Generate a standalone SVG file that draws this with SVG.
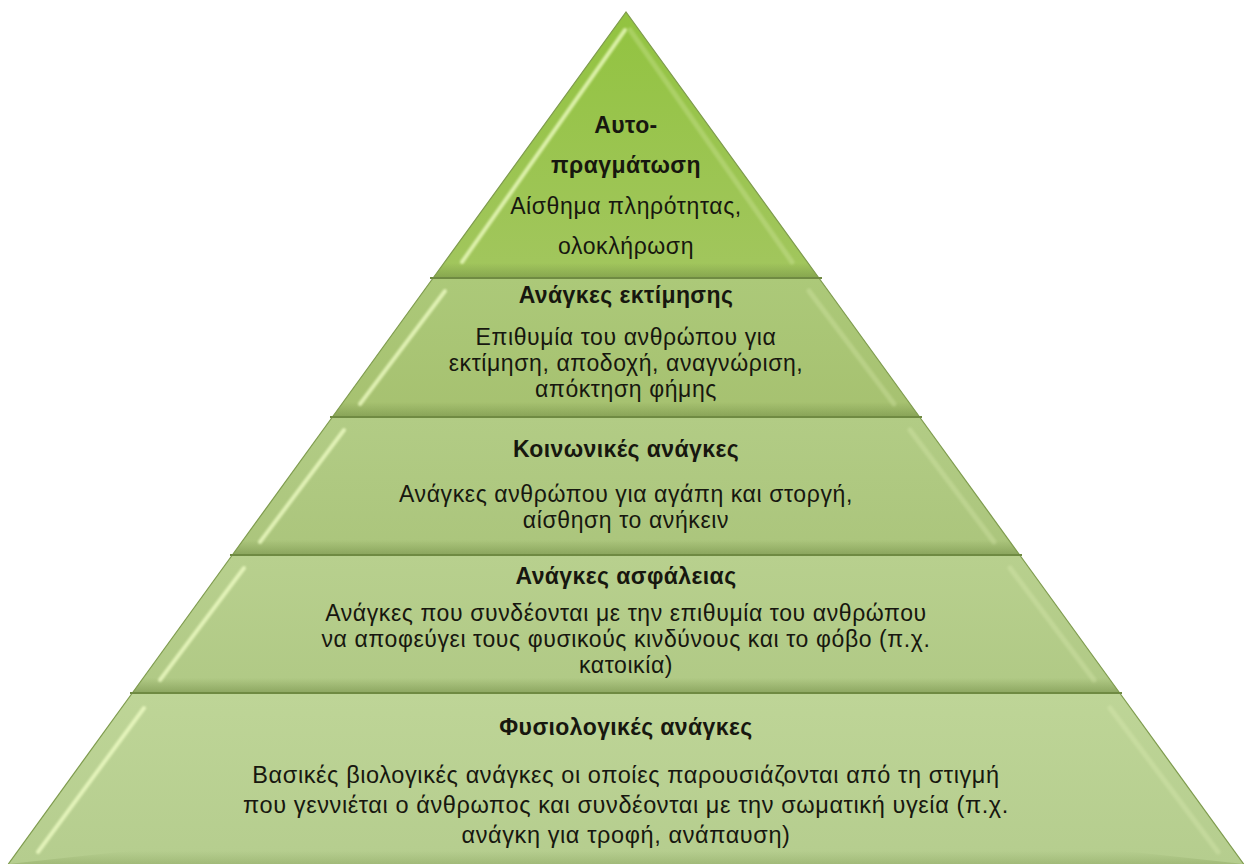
<svg xmlns="http://www.w3.org/2000/svg" width="1251" height="864" viewBox="0 0 1251 864">
<defs>
<style>
.t{font-family:"Liberation Sans",Arial,sans-serif;font-size:23px;letter-spacing:0.6px;fill:#17170f;text-anchor:middle}
.b{font-weight:bold;font-size:23px;letter-spacing:0.4px}
.big{font-size:23.5px}
.edge{fill:none;stroke:#7d9a4c;stroke-width:1.2}
.hl{fill:none;stroke:#f2ffc8;stroke-width:4;stroke-linecap:round;opacity:.75;filter:url(#blur)}
.hr{fill:none;stroke:#eaf7c0;stroke-width:5;stroke-linecap:round;opacity:.25;filter:url(#blur)}
.sh{fill:url(#shadow)}
.line{stroke:#6f8a42;stroke-width:2}
</style>
<filter id="blur" x="-20%" y="-20%" width="140%" height="140%"><feGaussianBlur stdDeviation="1.2"/></filter>
<linearGradient id="g1" x1="0" y1="0" x2="0" y2="1"><stop offset="0" stop-color="#92c340"/><stop offset="1" stop-color="#a2c65e"/></linearGradient>
<linearGradient id="g2" x1="0" y1="0" x2="0" y2="1"><stop offset="0" stop-color="#acc979"/><stop offset="1" stop-color="#a6c170"/></linearGradient>
<linearGradient id="g3" x1="0" y1="0" x2="0" y2="1"><stop offset="0" stop-color="#b2cc85"/><stop offset="1" stop-color="#abc57c"/></linearGradient>
<linearGradient id="g4" x1="0" y1="0" x2="0" y2="1"><stop offset="0" stop-color="#b8d08e"/><stop offset="1" stop-color="#b0c985"/></linearGradient>
<linearGradient id="g5" x1="0" y1="0" x2="0" y2="1"><stop offset="0" stop-color="#bed597"/><stop offset="1" stop-color="#b5cd8e"/></linearGradient>
<linearGradient id="shadow" x1="0" y1="0" x2="0" y2="1"><stop offset="0" stop-color="#6f8a42" stop-opacity="0"/><stop offset="1" stop-color="#6f8a42" stop-opacity=".55"/></linearGradient>
</defs>
<rect width="1251" height="864" fill="#ffffff"/>

<g id="tier5">
<polygon points="132.3,693 1119.7,693 1243.7,864 8.3,864" fill="url(#g5)"/>
<polygon points="128,851 1124,851 1243.7,864 8.3,864" class="sh" opacity=".5"/>
<line x1="144" y1="708" x2="38" y2="852" class="hl"/>
<line x1="1110" y1="708" x2="1218" y2="852" class="hr"/>
<polyline points="132.3,693 8.3,864" class="edge"/>
<polyline points="1119.7,693 1243.7,864" class="edge"/>
<text class="t b" x="626" y="735">Φυσιολογικές ανάγκες</text>
<text class="t big" x="626" y="783">Βασικές βιολογικές ανάγκες οι οποίες παρουσιάζονται από τη στιγμή</text>
<text class="t big" x="626" y="813">που γεννιέται ο άνθρωπος και συνδέονται με την σωματική υγεία (π.χ.</text>
<text class="t big" x="626" y="843">ανάγκη για τροφή, ανάπαυση)</text>
</g>

<g id="tier4">
<polygon points="232.3,555 1019.7,555 1119.7,693 132.3,693" fill="url(#g4)"/>
<polygon points="143,678 1109,678 1119.7,693 132.3,693" class="sh"/>
<line x1="244" y1="568" x2="160" y2="680" class="hl"/>
<line x1="1010" y1="568" x2="1094" y2="680" class="hr"/>
<polyline points="232.3,555 132.3,693" class="edge"/>
<polyline points="1019.7,555 1119.7,693" class="edge"/>
<line x1="130" y1="693" x2="1122" y2="693" class="line"/>
<text class="t b" x="626" y="584">Ανάγκες ασφάλειας</text>
<text class="t" x="626" y="621">Ανάγκες που συνδέονται με την επιθυμία του ανθρώπου</text>
<text class="t" x="626" y="647">να αποφεύγει τους φυσικούς κινδύνους και το φόβο (π.χ.</text>
<text class="t" x="626" y="673">κατοικία)</text>
</g>

<g id="tier3">
<polygon points="332.4,417 919.6,417 1019.7,555 232.3,555" fill="url(#g3)"/>
<polygon points="243,540 1009,540 1019.7,555 232.3,555" class="sh"/>
<line x1="344" y1="430" x2="260" y2="542" class="hl"/>
<line x1="910" y1="430" x2="994" y2="542" class="hr"/>
<polyline points="332.4,417 232.3,555" class="edge"/>
<polyline points="919.6,417 1019.7,555" class="edge"/>
<line x1="230" y1="555" x2="1022" y2="555" class="line"/>
<text class="t b" x="626" y="457">Κοινωνικές ανάγκες</text>
<text class="t" x="626" y="502">Ανάγκες ανθρώπου για αγάπη και στοργή,</text>
<text class="t" x="626" y="528">αίσθηση το ανήκειν</text>
</g>

<g id="tier2">
<polygon points="433.1,278 818.9,278 919.6,417 332.4,417" fill="url(#g2)"/>
<polygon points="343,402 909,402 919.6,417 332.4,417" class="sh"/>
<line x1="445" y1="291" x2="360" y2="404" class="hl"/>
<line x1="809" y1="291" x2="894" y2="404" class="hr"/>
<polyline points="433.1,278 332.4,417" class="edge"/>
<polyline points="818.9,278 919.6,417" class="edge"/>
<line x1="330" y1="417" x2="922" y2="417" class="line"/>
<text class="t b" x="626" y="303">Ανάγκες εκτίμησης</text>
<text class="t" x="626" y="345">Επιθυμία του ανθρώπου για</text>
<text class="t" x="626" y="371">εκτίμηση, αποδοχή, αναγνώριση,</text>
<text class="t" x="626" y="397">απόκτηση φήμης</text>
</g>

<g id="tier1">
<polygon points="626,12 818.9,278 433.1,278" fill="url(#g1)"/>
<polygon points="444,263 808,263 818.9,278 433.1,278" class="sh"/>
<line x1="625" y1="30" x2="462" y2="262" class="hl"/>
<line x1="630" y1="30" x2="792" y2="262" class="hr"/>
<polyline points="433.1,278 626,12 818.9,278" class="edge"/>
<line x1="430" y1="278" x2="822" y2="278" class="line"/>
<text class="t b" x="626" y="133">Αυτο-</text>
<text class="t b" x="626" y="173">πραγμάτωση</text>
<text class="t" x="626" y="214">Αίσθημα πληρότητας,</text>
<text class="t" x="626" y="254">ολοκλήρωση</text>
</g>

<g id="connectors"></g>
</svg>
